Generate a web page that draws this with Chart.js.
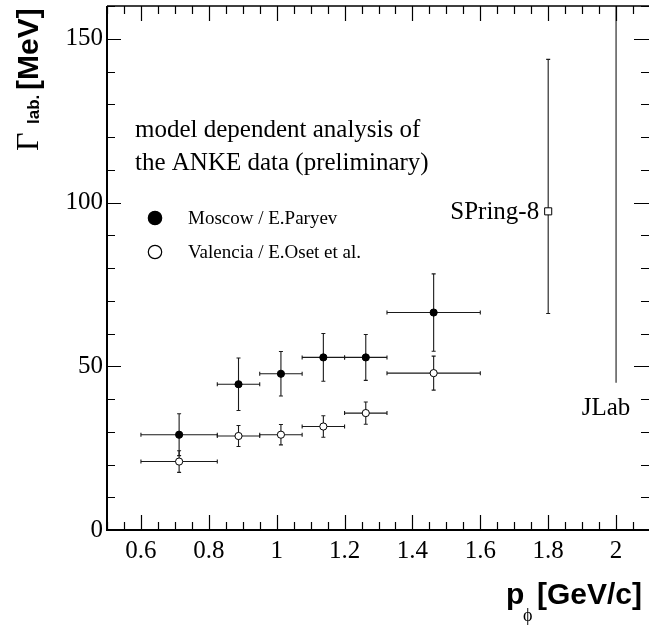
<!DOCTYPE html>
<html><head><meta charset="utf-8">
<script src="https://cdn.jsdelivr.net/npm/chart.js@4.4.1/dist/chart.umd.min.js"></script>
<style>html,body{margin:0;padding:0;background:#fff;overflow:hidden;width:649px;height:626px}canvas{display:block}</style>
</head><body>
<canvas id="c" width="656" height="626" style="width:656px;height:626px"></canvas>
<script>
// ---- data ----
const binLow  = [0.6, 0.825, 0.95, 1.075, 1.2, 1.325];
const binHigh = [0.825, 0.95, 1.075, 1.2, 1.325, 1.6];
const momentum = [0.7125, 0.8875, 1.0125, 1.1375, 1.2625, 1.4625];
const moscowWidth = [29.1, 44.5, 47.7, 52.7, 52.7, 66.4];
const moscowErr   = [6.4, 8.0, 6.8, 7.3, 7.0, 11.8];
const valenciaWidth = [20.9, 28.7, 29.1, 31.6, 35.7, 47.9];
const valenciaErr   = [3.3, 3.2, 3.1, 3.3, 3.4, 5.2];
const spring8X = [1.8];
const spring8Width = [97.3];
const spring8Low = [66.1];
const spring8High = [143.7];
const jlabX = [2.0];
const jlabWidth = [110];   // centre lies off the visible frame (marker not shown)
const jlabLow = [45];
const jlabHigh = [175];
const xTickValues = [0.6, 0.8, 1.0, 1.2, 1.4, 1.6, 1.8, 2.0];
const xTickLabels = ['0.6', '0.8', '1', '1.2', '1.4', '1.6', '1.8', '2'];
const yTickValues = [0, 50, 100, 150];
const yTickLabels = ['0', '50', '100', '150'];
const legendLabels = ['Moscow / E.Paryev', 'Valencia / E.Oset et al.'];
const noteLines = ['model dependent analysis of', 'the ANKE data (preliminary)'];
const spring8Label = 'SPring-8';
const jlabLabel = 'JLab';

const SERIF = "'Liberation Serif','Times New Roman',serif";
const SANS = "'Liberation Sans',Arial,sans-serif";

function pts(xs, ys) { return xs.map((x, i) => ({ x: x, y: ys[i] })); }

const datasets = [
  { label: legendLabels[0], data: pts(momentum, moscowWidth),
    pointStyle: 'circle', pointRadius: 3.6, backgroundColor: '#000', borderColor: '#000', borderWidth: 1,
    errs: momentum.map((m, i) => ({ xl: binLow[i], xh: binHigh[i], yl: moscowWidth[i] - moscowErr[i], yh: moscowWidth[i] + moscowErr[i] })) },
  { label: legendLabels[1], data: pts(momentum, valenciaWidth),
    pointStyle: 'circle', pointRadius: 3.6, backgroundColor: '#fff', borderColor: '#000', borderWidth: 1,
    errs: momentum.map((m, i) => ({ xl: binLow[i], xh: binHigh[i], yl: valenciaWidth[i] - valenciaErr[i], yh: valenciaWidth[i] + valenciaErr[i] })) },
  { label: spring8Label, data: pts(spring8X, spring8Width),
    pointStyle: 'rect', pointRadius: 5, backgroundColor: '#fff', borderColor: '#000', borderWidth: 1,
    errs: spring8X.map((x, i) => ({ yl: spring8Low[i], yh: spring8High[i] })) },
  { label: jlabLabel, data: pts(jlabX, jlabWidth),
    pointRadius: 0, backgroundColor: '#000', borderColor: '#000',
    errs: jlabX.map((x, i) => ({ yl: jlabLow[i], yh: jlabHigh[i], nocap: true })) }
];

const errorBarPlugin = {
  id: 'errorBars',
  beforeDatasetsDraw(chart) {
    const ctx = chart.ctx, xs = chart.scales.x, ys = chart.scales.y, a = chart.chartArea;
    ctx.save();
    ctx.beginPath(); ctx.rect(a.left, a.top, a.right - a.left, a.bottom - a.top); ctx.clip();
    ctx.strokeStyle = '#1a1a1a'; ctx.lineWidth = 1.1;
    chart.data.datasets.forEach(ds => {
      ds.data.forEach((p, i) => {
        const e = ds.errs[i];
        const px = xs.getPixelForValue(p.x), py = ys.getPixelForValue(p.y);
        const cap = 2;
        ctx.beginPath();
        if (e.xl !== undefined) {
          const x1 = xs.getPixelForValue(e.xl), x2 = xs.getPixelForValue(e.xh);
          ctx.moveTo(x1, py); ctx.lineTo(x2, py);
          ctx.moveTo(x1, py - cap); ctx.lineTo(x1, py + cap);
          ctx.moveTo(x2, py - cap); ctx.lineTo(x2, py + cap);
        }
        const y1 = ys.getPixelForValue(e.yl), y2 = ys.getPixelForValue(e.yh);
        ctx.moveTo(px, y1); ctx.lineTo(px, y2);
        if (!e.nocap) {
          ctx.moveTo(px - cap, y1); ctx.lineTo(px + cap, y1);
          ctx.moveTo(px - cap, y2); ctx.lineTo(px + cap, y2);
        }
        ctx.stroke();
      });
    });
    ctx.restore();
  }
};

const framePlugin = {
  id: 'frame',
  afterDraw(chart) {
    const ctx = chart.ctx, xs = chart.scales.x, ys = chart.scales.y, a = chart.chartArea;
    ctx.save();
    ctx.strokeStyle = '#000';
    // ticks
    ctx.lineWidth = 1.2;
    ctx.beginPath();
    const xStep = 0.05, xMajor = 0.2;
    for (let k = Math.ceil(xs.min / xStep - 1e-9); k * xStep <= xs.max + 1e-9; k++) {
      const v = k * xStep;
      const major = Math.abs(v / xMajor - Math.round(v / xMajor)) < 1e-6;
      const L = major ? 15 : 8;
      const px = Math.round(xs.getPixelForValue(v)) + 0.5;
      ctx.moveTo(px, a.bottom); ctx.lineTo(px, a.bottom - L);
      ctx.moveTo(px, a.top); ctx.lineTo(px, a.top + L);
    }
    const yStep = 10, yMajor = 50;
    for (let k = Math.ceil(ys.min / yStep); k * yStep <= ys.max; k++) {
      const v = k * yStep;
      const major = v % yMajor === 0;
      const py = Math.round(ys.getPixelForValue(v)) + 0.5;
      ctx.moveTo(a.left, py); ctx.lineTo(a.left + (major ? 14 : 8), py);
      ctx.moveTo(a.right, py); ctx.lineTo(a.right - (major ? 16 : 9), py);
    }
    ctx.stroke();
    // frame
    ctx.lineWidth = 2;
    ctx.beginPath();
    ctx.moveTo(a.left, a.top); ctx.lineTo(a.left, a.bottom); ctx.lineTo(a.right, a.bottom);
    ctx.stroke();
    ctx.lineWidth = 1.5;
    ctx.beginPath();
    ctx.moveTo(a.left, a.top); ctx.lineTo(a.right, a.top); ctx.lineTo(a.right, a.bottom);
    ctx.stroke();

    // annotations
    ctx.fillStyle = '#000';
    ctx.textBaseline = 'alphabetic';
    ctx.textAlign = 'left';
    ctx.font = '25px ' + SERIF;
    ctx.fillText(noteLines[0], 135, 137);
    ctx.fillText(noteLines[1], 135, 170);
    // legend
    ctx.font = '19px ' + SERIF;
    chart.data.datasets.slice(0, 2).forEach((ds, i) => {
      const cy = 218 + i * 34;
      ctx.beginPath(); ctx.arc(155, cy, 6.7, 0, Math.PI * 2);
      ctx.fillStyle = ds.backgroundColor; ctx.fill();
      ctx.lineWidth = 1.2; ctx.strokeStyle = '#000'; ctx.stroke();
      ctx.fillStyle = '#000';
      ctx.fillText(ds.label, 188, cy + 5.5);
    });
    // point labels
    ctx.font = '25px ' + SERIF;
    ctx.textAlign = 'right';
    ctx.fillText(spring8Label, xs.getPixelForValue(spring8X[0]) - 9, ys.getPixelForValue(spring8Width[0]) + 7.5);
    ctx.textAlign = 'center';
    ctx.fillText(jlabLabel, xs.getPixelForValue(jlabX[0]) - 10, 415);

    // y title (rotated)
    ctx.save();
    ctx.translate(38, 151);
    ctx.rotate(-Math.PI / 2);
    ctx.textAlign = 'left';
    ctx.font = '32px ' + SERIF;
    ctx.fillText('\u0393', 0, 0);
    ctx.font = 'bold 17px ' + SANS;
    ctx.fillText('lab.', 27, 1);
    ctx.font = 'bold 30px ' + SANS;
    ctx.fillText('[MeV]', 61, 0);
    ctx.restore();

    // x title
    ctx.textAlign = 'left';
    ctx.font = 'bold 30px ' + SANS;
    ctx.fillText('p', 506, 604);
    ctx.font = '18px ' + SERIF;
    ctx.fillText('\u03D5', 523, 621);
    ctx.font = 'bold 30px ' + SANS;
    ctx.fillText('[GeV/c]', 537, 604);
    ctx.restore();
  }
};

new Chart(document.getElementById('c'), {
  type: 'scatter',
  data: { datasets: datasets },
  options: {
    responsive: false, animation: false, devicePixelRatio: 1,
    layout: { padding: { left: 0, right: 6, top: 5, bottom: 0 } },
    plugins: { legend: { display: false }, tooltip: { enabled: false } },
    scales: {
      x: {
        type: 'linear', min: 0.5, max: 2.1,
        grid: { display: false, drawTicks: false }, border: { display: false },
        afterBuildTicks: s => { s.ticks = xTickValues.map(v => ({ value: v })); },
        afterFit: s => { s.height = 96; s.paddingLeft = 0; s.paddingRight = 0; s.paddingTop = 0; s.paddingBottom = 0; },
        ticks: { autoSkip: false, maxRotation: 0, padding: 6, color: '#000',
          font: { family: SERIF, size: 25 }, callback: (v, i) => xTickLabels[i] }
      },
      y: {
        type: 'linear', min: 0, max: 160,
        grid: { display: false, drawTicks: false }, border: { display: false },
        afterBuildTicks: s => { s.ticks = yTickValues.map(v => ({ value: v })); },
        afterFit: s => { s.width = 107; s.paddingLeft = 0; s.paddingRight = 0; s.paddingTop = 0; s.paddingBottom = 0; },
        ticks: { autoSkip: false, padding: 4, color: '#000',
          font: { family: SERIF, size: 25 }, callback: (v, i) => yTickLabels[i] }
      }
    }
  },
  plugins: [errorBarPlugin, framePlugin]
});
</script>
</body></html>
